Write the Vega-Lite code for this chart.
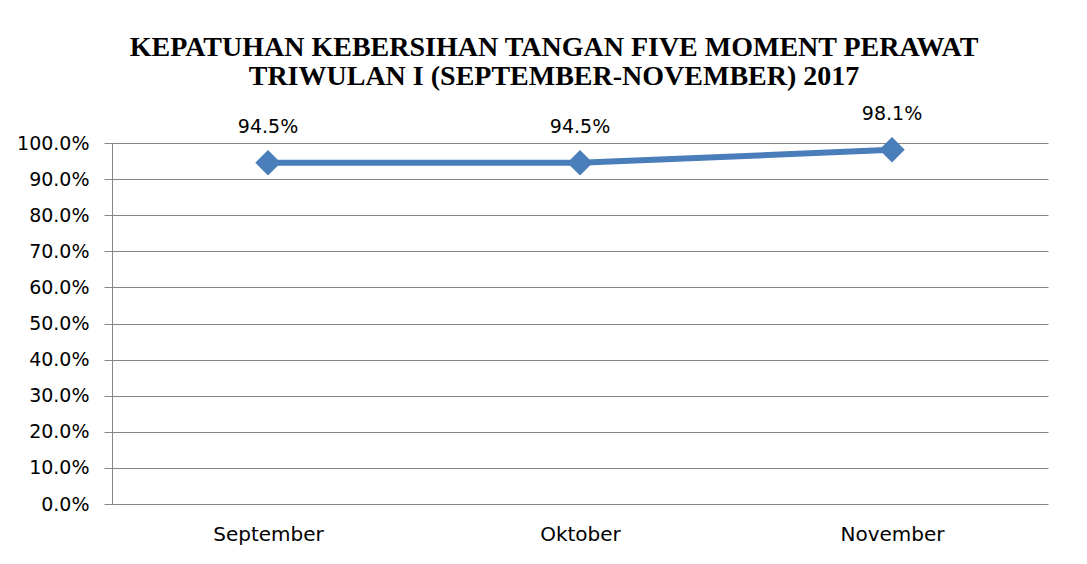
{
  "$schema": "https://vega.github.io/schema/vega-lite/v6.json",
  "autosize": {"type": "none"},
  "width": 936,
  "height": 361,
  "padding": {"left": 112, "top": 143, "right": 39, "bottom": 60},
  "background": "white",
  "title": {
    "text": ["KEPATUHAN  KEBERSIHAN TANGAN FIVE MOMENT  PERAWAT", "TRIWULAN I (SEPTEMBER-NOVEMBER) 2017"],
    "font": "Liberation Serif",
    "fontSize": 28,
    "fontWeight": "bold",
    "color": "black",
    "anchor": "middle",
    "frame": "group",
    "dx": -26,
    "lineHeight": 29,
    "offset": 14
  },
  "data": {
    "values": [
      {"bulan": "September", "nilai": 0.945},
      {"bulan": "Oktober", "nilai": 0.945},
      {"bulan": "November", "nilai": 0.981}
    ]
  },
  "encoding": {
    "x": {
      "field": "bulan",
      "type": "ordinal",
      "sort": null,
      "scale": {"type": "point", "padding": 0.5},
      "axis": {
        "title": null,
        "labelAngle": 0,
        "labelFont": "DejaVu Sans",
        "labelFontSize": 20,
        "labelColor": "black",
        "labelPadding": 20,
        "ticks": false,
        "domain": false,
        "grid": false
      }
    },
    "y": {
      "field": "nilai",
      "type": "quantitative",
      "scale": {"domain": [0, 1]},
      "axis": {
        "title": null,
        "format": ".1%",
        "values": [0, 0.1, 0.2, 0.3, 0.4, 0.5, 0.6, 0.7, 0.8, 0.9, 1.0],
        "labelFont": "DejaVu Sans",
        "labelFontSize": 19,
        "labelColor": "black",
        "labelPadding": 15,
        "tickSize": 8,
        "tickColor": "#868686",
        "domainColor": "#868686",
        "gridColor": "#868686",
        "grid": true
      }
    }
  },
  "layer": [
    {
      "mark": {"type": "line", "color": "#4a7ebb", "strokeWidth": 6}
    },
    {
      "mark": {"type": "point", "shape": "diamond", "size": 650, "filled": true, "color": "#4a7ebb", "opacity": 1}
    },
    {
      "mark": {"type": "text", "dy": -36, "font": "DejaVu Sans", "fontSize": 19, "color": "black"},
      "encoding": {"text": {"field": "nilai", "type": "quantitative", "format": ".1%"}}
    }
  ],
  "config": {
    "view": {"stroke": null},
    "axisX": {"domain": false}
  }
}
